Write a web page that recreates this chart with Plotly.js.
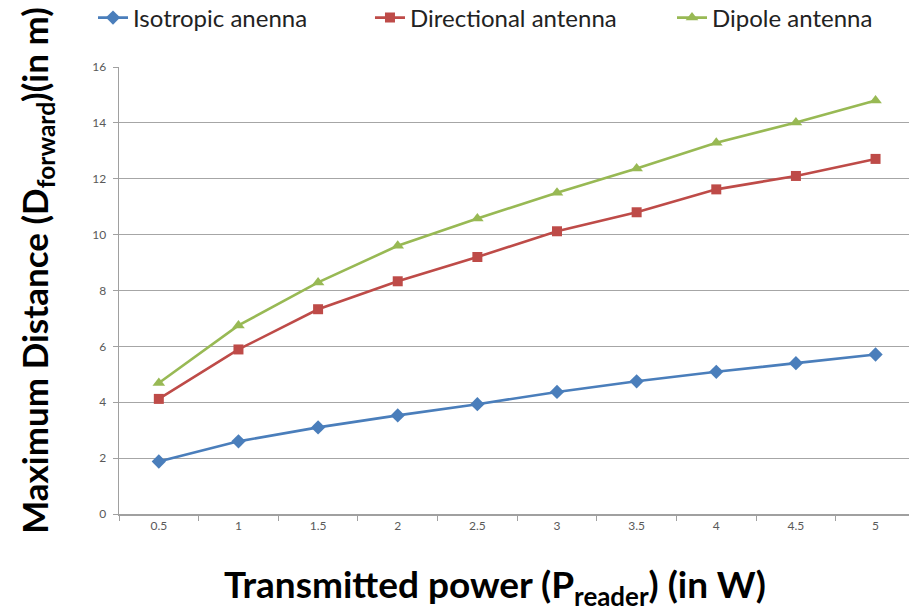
<!DOCTYPE html>
<html>
<head>
<meta charset="utf-8">
<script src="https://cdn.plot.ly/plotly-3.0.1.min.js"></script>
<style>html,body{margin:0;padding:0;background:#fff;}#chart{width:909px;height:613px;}</style>
</head>
<body>
<div id="chart"></div>
<script>
const powers = ["0.5","1","1.5","2","2.5","3","3.5","4","4.5","5"];
const isotropic = [1.88, 2.6, 3.1, 3.53, 3.93, 4.37, 4.75, 5.09, 5.4, 5.71];
const directional = [4.12, 5.89, 7.33, 8.33, 9.2, 10.12, 10.8, 11.62, 12.1, 12.71];
const dipole = [4.69, 6.75, 8.29, 9.6, 10.58, 11.5, 12.37, 13.29, 14.01, 14.8];
const seriesNames = ["Isotropic anenna", "Directional antenna", "Dipole antenna"];
const yTitle = "Maximum Distance (D<sub>forward</sub>)(in m)";
const xTitle = "Transmitted power (P<sub>reader</sub>) (in W)";

const font = "Lato, 'Open Sans', sans-serif";
function tr(y, name, color, symbol, size, legendId) {
  return {x: powers, y: y, name: name, type: "scatter", mode: "lines+markers",
    legend: legendId,
    line: {color: color, width: 2.6},
    marker: {color: color, symbol: symbol, size: size}};
}
const data = [
  tr(isotropic, seriesNames[0], "#4A7EBB", "diamond", 11, "legend"),
  tr(directional, seriesNames[1], "#BE4B48", "square", 10, "legend2"),
  tr(dipole, seriesNames[2], "#98B954", "triangle-up", 11, "legend3")
];
function leg(x) {
  return {orientation: "h", x: x, xanchor: "left", y: 1.1096, yanchor: "middle",
    font: {size: 24, color: "#222", family: font}, bgcolor: "rgba(0,0,0,0)"};
}
const layout = {
  width: 909, height: 613,
  margin: {l: 119, r: 0, t: 67, b: 99, autoexpand: false},
  paper_bgcolor: "#fff", plot_bgcolor: "#fff",
  font: {family: font, color: "#595959"},
  showlegend: true,
  legend: leg(-0.0329),
  legend2: leg(0.3177),
  legend3: leg(0.700),
  xaxis: {type: "category", range: [-0.5, 9.42], tickson: "boundaries",
    ticks: "outside", ticklen: 5, tickcolor: "#a0a0a0",
    showline: true, linecolor: "#a0a0a0", linewidth: 1.5, showgrid: false,
    tickfont: {size: 12, color: "#595959"}, zeroline: false},
  yaxis: {range: [0, 16], dtick: 2, ticks: "outside", ticklen: 5, tickcolor: "#a0a0a0",
    showline: true, linecolor: "#a0a0a0", linewidth: 1.5,
    showgrid: true, gridcolor: "#a6a6a6", gridwidth: 1.2, zeroline: false,
    tickfont: {size: 12, color: "#595959"}, ticklabelstandoff: 4},
  annotations: [
    {text: yTitle, xref: "paper", yref: "paper", x: -0.104, y: 0.546, textangle: -90,
      xanchor: "center", yanchor: "middle", showarrow: false,
      font: {size: 35, color: "#000", family: font, weight: "bold"}},
    {text: xTitle, xref: "paper", yref: "paper", x: 0.476, y: -0.163,
      xanchor: "center", yanchor: "middle", showarrow: false,
      font: {size: 37, color: "#000", family: font, weight: "bold"}}
  ]
};
Plotly.newPlot("chart", data, layout, {displayModeBar: false, staticPlot: true});
</script>
</body>
</html>
